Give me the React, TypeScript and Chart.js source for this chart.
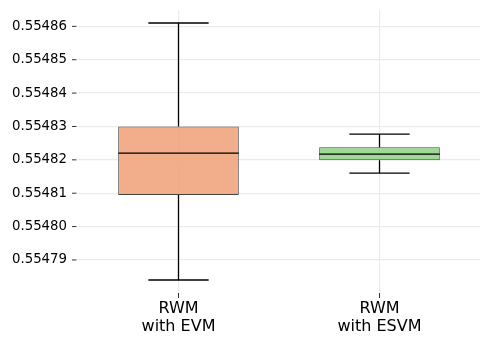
import { useEffect, useRef } from "react";
import { Chart, registerables } from "chart.js";

Chart.register(...registerables);

const categories: string[][] = [
  ["RWM", "with EVM"],
  ["RWM", "with ESVM"],
];
const whiskerLow = [0.554784, 0.554816];
const q1 = [0.5548095, 0.5548199];
const median = [0.554822, 0.5548217];
const q3 = [0.55483, 0.5548238];
const whiskerHigh = [0.554861, 0.5548277];
const yTicks = [0.55479, 0.5548, 0.55481, 0.55482, 0.55483, 0.55484, 0.55485, 0.55486];
const boxFill = ["rgba(241,165,125,0.9)", "rgba(147,213,138,0.9)"];
const yMin = 0.5547807;
const yMax = 0.5548649;

const boxPlugin = {
  id: "boxWhiskers",
  afterDatasetsDraw(chart: any) {
    const ctx = chart.ctx;
    const y = chart.scales.y;
    const meta = chart.getDatasetMeta(0);
    ctx.save();
    meta.data.forEach((bar: any, i: number) => {
      const cx = bar.x;
      const half = bar.width / 2;
      const capHalf = half / 2;
      const pLow = y.getPixelForValue(whiskerLow[i]);
      const pQ1 = y.getPixelForValue(q1[i]);
      const pMed = y.getPixelForValue(median[i]);
      const pQ3 = y.getPixelForValue(q3[i]);
      const pHigh = y.getPixelForValue(whiskerHigh[i]);
      ctx.strokeStyle = "#000";
      ctx.lineWidth = 1.3;
      ctx.beginPath();
      ctx.moveTo(cx, pQ3);
      ctx.lineTo(cx, pHigh);
      ctx.moveTo(cx - capHalf, pHigh);
      ctx.lineTo(cx + capHalf, pHigh);
      ctx.moveTo(cx, pQ1);
      ctx.lineTo(cx, pLow);
      ctx.moveTo(cx - capHalf, pLow);
      ctx.lineTo(cx + capHalf, pLow);
      ctx.stroke();
      ctx.lineWidth = 1.3;
      ctx.beginPath();
      ctx.moveTo(cx - half, pMed);
      ctx.lineTo(cx + half, pMed);
      ctx.stroke();
    });
    ctx.restore();
  },
  afterDraw(chart: any) {
    const ctx = chart.ctx;
    const area = chart.chartArea;
    const ys = chart.scales.y;
    const xs = chart.scales.x;
    ctx.save();
    ctx.strokeStyle = "#333";
    ctx.lineWidth = 1;
    ctx.beginPath();
    ys.ticks.forEach((t: any) => {
      const py = ys.getPixelForValue(t.value);
      ctx.moveTo(area.left - 6, py);
      ctx.lineTo(area.left - 1.5, py);
    });
    categories.forEach((_, i) => {
      const px = xs.getPixelForValue(i);
      ctx.moveTo(px, area.bottom + 2);
      ctx.lineTo(px, area.bottom + 7);
    });
    ctx.stroke();
    ctx.restore();
  },
};

export default function App() {
  const ref = useRef<HTMLCanvasElement | null>(null);
  useEffect(() => {
    if (!ref.current) return;
    const chart = new Chart(ref.current, {
      type: "bar",
      data: {
        labels: categories as any,
        datasets: [
          {
            data: categories.map((_, i) => [q1[i], q3[i]]) as any,
            backgroundColor: boxFill,
            borderColor: "#444",
            borderWidth: 1,
            borderSkipped: false,
            barPercentage: 0.6,
            categoryPercentage: 1,
          },
        ],
      },
      options: {
        animation: false,
        responsive: false,
        maintainAspectRatio: false,
        layout: { padding: { top: 10, right: 10, left: 0, bottom: 0 } },
        plugins: { legend: { display: false }, tooltip: { enabled: false } },
        scales: {
          x: {
            type: "category",
            offset: true,
            grid: { offset: false, color: "#ebebeb", lineWidth: 1.2, drawTicks: false },
            border: { display: false },
            ticks: {
              color: "#000",
              padding: 9.5,
              font: { family: "DejaVu Sans", size: 16, lineHeight: 1.1 },
              maxRotation: 0,
            },
            afterFit: (s: any) => {
              s.height = 54;
              s.paddingLeft = 0;
              s.paddingRight = 0;
            },
          },
          y: {
            type: "linear",
            min: yMin,
            max: yMax,
            grid: { color: "#ebebeb", lineWidth: 1.2, drawTicks: false },
            border: { display: false },
            afterBuildTicks: (s: any) => {
              s.ticks = yTicks.map((v) => ({ value: v }));
            },
            ticks: {
              color: "#000",
              padding: 11,
              font: { family: "DejaVu Sans", size: 13.3 },
              callback: (v: any) => Number(v).toFixed(5),
            },
            afterFit: (s: any) => {
              s.width = 78;
              s.paddingTop = 0;
              s.paddingBottom = 0;
            },
          },
        },
      },
      plugins: [boxPlugin],
    });
    return () => chart.destroy();
  }, []);
  return (
    <div style={{ position: "fixed", left: 0, top: 0, width: 490, height: 345, background: "#fff" }}>
      <canvas ref={ref} width={490} height={345} style={{ width: 490, height: 345 }} />
    </div>
  );
}
